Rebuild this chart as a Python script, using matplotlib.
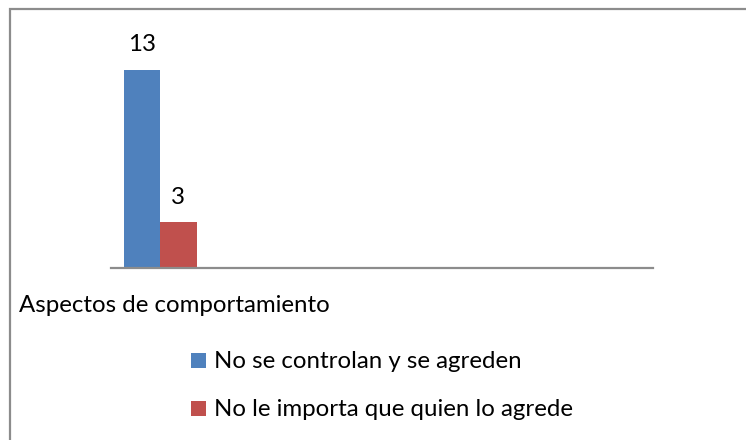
import matplotlib
matplotlib.use("Agg")
import matplotlib.pyplot as plt
from matplotlib.patches import Rectangle

plt.rcParams['font.family'] = ['Lato', 'DejaVu Sans']

category = "Aspectos de comportamiento"
series = ["No se controlan y se agreden", "No le importa que quien lo agrede"]
values = [13, 3]
colors = ["#4F81BD", "#C0504D"]

W, H = 746, 440
FS = 17.3
fig = plt.figure(figsize=(W / 100, H / 100), dpi=100)

def fx(px):
    return px / W

def fy(py):
    return 1 - py / H

# figure border (top/left visible, right/bottom clipped)
fig.patches.append(Rectangle((fx(10), -0.1), 1.2, fy(9) + 0.1,
                             transform=fig.transFigure, fill=False,
                             edgecolor="#8c8c8c", linewidth=1.6))

ax_left, ax_right, base_y, top_y = 111, 653, 268, 30
ax = fig.add_axes([fx(ax_left), fy(base_y), (ax_right - ax_left) / W, (base_y - top_y) / H])
ymax = (base_y - top_y) / ((base_y - 70) / 13.0)
ax.set_ylim(0, ymax)

bw = 0.35
pxu = 36.5 / bw
center_px = 160
ax.set_xlim((ax_left - center_px) / pxu, (ax_right - center_px) / pxu)

offsets = [-bw / 2, bw / 2]
for off, v, c in zip(offsets, values, colors):
    ax.bar(off, v, width=bw, color=c, zorder=2)
    ax.annotate(str(v), (off, v), xytext=(0, 13.5), textcoords="offset points",
                ha="center", va="baseline", fontsize=FS, color="#000000")

for s in ["top", "right", "left"]:
    ax.spines[s].set_visible(False)
ax.spines["bottom"].set_color("#8c8c8c")
ax.spines["bottom"].set_linewidth(1.6)
ax.set_xticks([])
ax.set_yticks([])
ax.patch.set_alpha(0)

fig.text(fx(19), fy(312), category, ha="left", va="baseline", fontsize=FS, color="#000000")

# legend
leg_rows = [360, 408]
for name, c, yc in zip(series, colors, leg_rows):
    fig.patches.append(Rectangle((fx(191), fy(yc + 7.5)), 15 / W, 15 / H,
                                 transform=fig.transFigure, facecolor=c, edgecolor="none"))
    fig.text(fx(214), fy(yc + 8), name, ha="left", va="baseline", fontsize=FS, color="#000000")

fig.savefig("out.png", dpi=100, facecolor="white")
